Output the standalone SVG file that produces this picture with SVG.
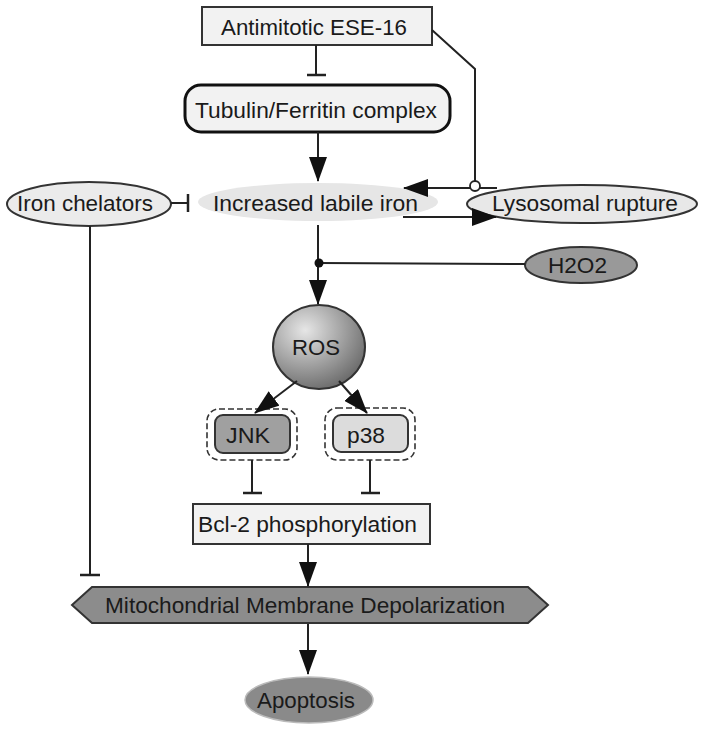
<svg xmlns="http://www.w3.org/2000/svg" width="720" height="731" viewBox="0 0 720 731">
<style>
text{font-family:"Liberation Sans",Arial,sans-serif;font-size:22px;fill:#1a1a1a;text-anchor:middle}
.ln{stroke:#222;stroke-width:2;fill:none}
.bar{stroke:#222;stroke-width:2.5}
.nd{stroke:#333;stroke-width:2}
.dash{fill:none;stroke:#333;stroke-width:1.6;stroke-dasharray:6,3}
</style>
<defs>
<marker id="arr" markerUnits="userSpaceOnUse" markerWidth="25" markerHeight="18" refX="24" refY="9" orient="auto">
<path d="M0,0 L25,9 L0,18 z" fill="#111"/>
</marker>
<radialGradient id="rosg" cx="0.35" cy="0.3" r="0.75">
<stop offset="0" stop-color="#e6e6e6"/>
<stop offset="1" stop-color="#6a6a6a"/>
</radialGradient>
</defs>
<rect width="720" height="731" fill="#fff"/>
<g id="nodes">
<g id="antimitotic"><rect class="nd" x="202" y="7" width="230" height="38" fill="#f2f2f2"/><text x="314" y="35" textLength="186" lengthAdjust="spacingAndGlyphs">Antimitotic ESE-16</text></g>
<g id="tubulin"><rect x="185" y="85" width="265" height="47" rx="16" fill="#f2f2f2" stroke="#111" stroke-width="3"/><text x="316" y="118" textLength="242" lengthAdjust="spacingAndGlyphs">Tubulin/Ferritin complex</text></g>
<g id="chelators"><ellipse class="nd" cx="89" cy="204" rx="82" ry="22" fill="#ebebeb"/><text x="85" y="211" textLength="136" lengthAdjust="spacingAndGlyphs">Iron chelators</text></g>
<g id="labileiron"><ellipse cx="318" cy="202" rx="120" ry="19" fill="#e6e6e6"/><text x="315.5" y="211" textLength="205" lengthAdjust="spacingAndGlyphs">Increased labile iron</text></g>
<g id="lysosomal"><ellipse class="nd" cx="582" cy="204" rx="115" ry="19" fill="#e8e8e8"/><text x="585" y="211" textLength="186" lengthAdjust="spacingAndGlyphs">Lysosomal rupture</text></g>
<g id="h2o2"><ellipse class="nd" cx="581" cy="265" rx="56" ry="18" fill="#999"/><text x="577.5" y="273" textLength="59" lengthAdjust="spacingAndGlyphs">H2O2</text></g>
<g id="ros"><ellipse class="nd" cx="319" cy="347" rx="46" ry="42" fill="url(#rosg)"/><text x="316" y="355" textLength="48" lengthAdjust="spacingAndGlyphs">ROS</text></g>
<g id="jnk"><rect class="dash" x="207" y="409" width="90" height="51" rx="12"/><rect class="nd" x="215" y="415" width="75" height="38" rx="8" fill="#a0a0a0"/><text x="248" y="443" textLength="44" lengthAdjust="spacingAndGlyphs">JNK</text></g>
<g id="p38"><rect class="dash" x="325" y="408" width="90" height="52" rx="12"/><rect class="nd" x="333" y="415" width="75" height="37" rx="8" fill="#dcdcdc"/><text x="366" y="443" textLength="38" lengthAdjust="spacingAndGlyphs">p38</text></g>
<g id="bcl2"><rect class="nd" x="193" y="504" width="237" height="40" fill="#f2f2f2"/><text x="307.5" y="532" textLength="219" lengthAdjust="spacingAndGlyphs">Bcl-2 phosphorylation</text></g>
<g id="mito"><polygon class="nd" points="72,605 92,587 528,587 548,605 528,623 92,623" fill="#8c8c8c"/><text x="305" y="613" textLength="400" lengthAdjust="spacingAndGlyphs">Mitochondrial Membrane Depolarization</text></g>
<g id="apoptosis"><ellipse cx="309" cy="700" rx="64" ry="23" fill="#8a8a8a" stroke="#bbb" stroke-width="1.5"/><text x="306" y="708" textLength="98" lengthAdjust="spacingAndGlyphs">Apoptosis</text></g>
</g>
<g id="connectors">
<line class="ln" x1="316" y1="45" x2="316" y2="75"/><line class="bar" x1="307" y1="75" x2="326" y2="75"/>
<line class="ln" x1="318" y1="132" x2="318" y2="181" marker-end="url(#arr)"/>
<polyline class="ln" points="432,30 475,69 475,181"/>
<line class="ln" x1="497" y1="188" x2="404" y2="188" marker-end="url(#arr)"/>
<circle cx="475" cy="186" r="5" fill="#fff" stroke="#222" stroke-width="1.8"/>
<line class="ln" x1="403" y1="217" x2="496" y2="217" marker-end="url(#arr)"/>
<line class="ln" x1="171" y1="203" x2="188" y2="203"/><line class="bar" x1="188" y1="194" x2="188" y2="212"/>
<line class="ln" x1="90" y1="226" x2="90" y2="575"/><line class="bar" x1="80" y1="575" x2="100" y2="575"/>
<line class="ln" x1="318" y1="225" x2="318" y2="304" marker-end="url(#arr)"/>
<line class="ln" x1="525" y1="264" x2="319" y2="263"/><circle cx="319" cy="263" r="4.5" fill="#111"/>
<line class="ln" x1="297" y1="381" x2="255" y2="413" marker-end="url(#arr)"/>
<line class="ln" x1="339" y1="381" x2="367" y2="413" marker-end="url(#arr)"/>
<line class="ln" x1="252" y1="460" x2="252" y2="493"/><line class="bar" x1="243" y1="493" x2="262" y2="493"/>
<line class="ln" x1="370" y1="460" x2="370" y2="493"/><line class="bar" x1="361" y1="493" x2="380" y2="493"/>
<line class="ln" x1="308" y1="544" x2="308" y2="586" marker-end="url(#arr)"/>
<line class="ln" x1="308" y1="624" x2="308" y2="674" marker-end="url(#arr)"/>
</g>
</svg>
